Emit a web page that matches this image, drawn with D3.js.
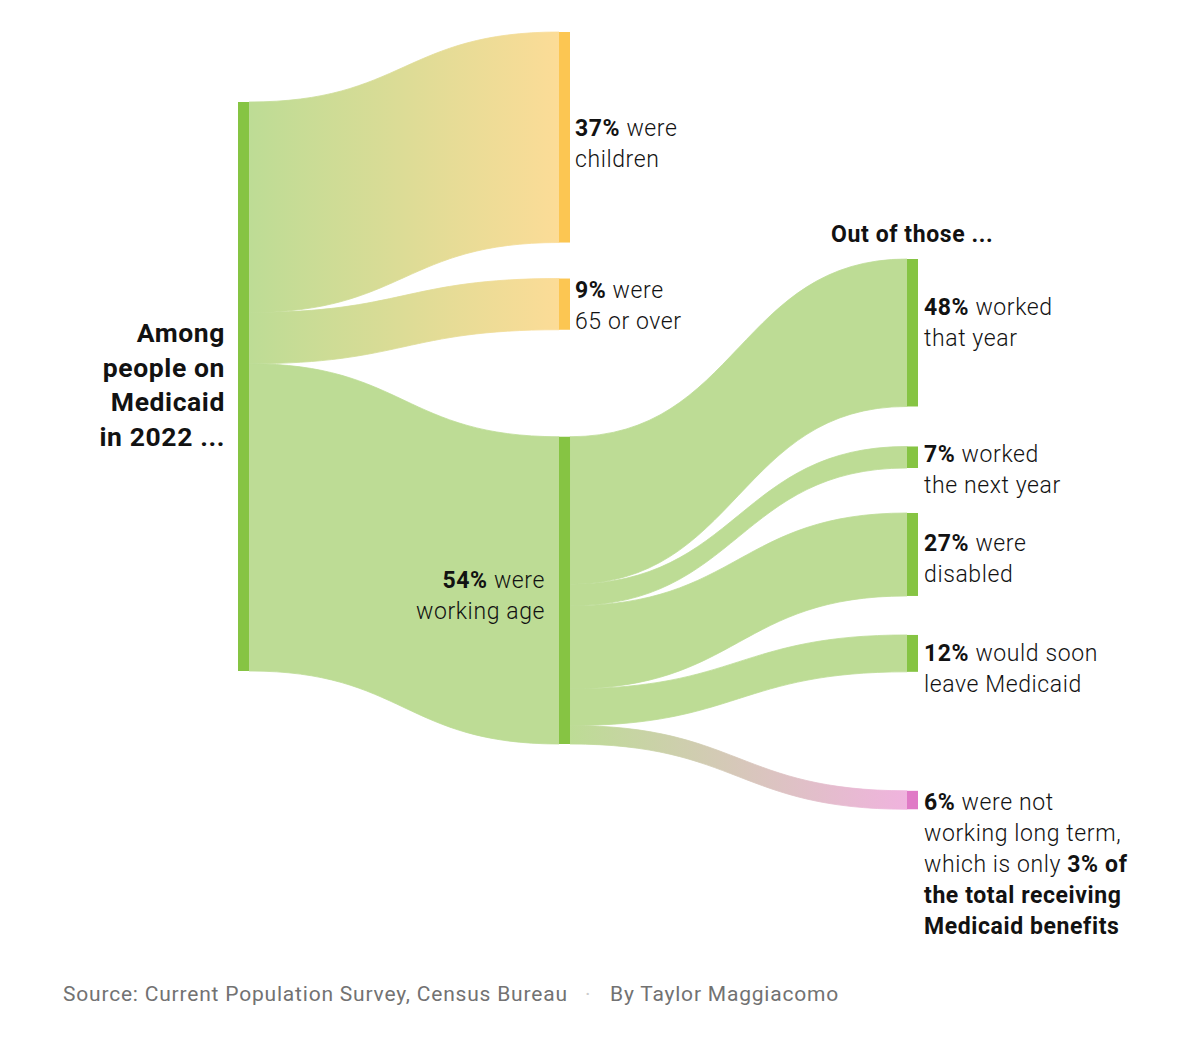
<!DOCTYPE html>
<html>
<head>
<meta charset="utf-8">
<script src="https://cdn.jsdelivr.net/npm/d3@7"></script>
<style>
  html, body { margin: 0; padding: 0; background: #fff; }
  svg { display: block; font-family: Roboto, "Noto Sans", sans-serif; }
</style>
</head>
<body>
<svg id="chart" width="1186" height="1046"></svg>
<script>
// ---------------- DATA ----------------
const rootLabel = ["Among", "people on", "Medicaid", "in 2022 ..."];
const groups = ["children", "65 or over", "working age"];
const groupValues = [37, 9, 54];            // % of everyone on Medicaid
const outcomes = ["worked that year", "worked the next year", "disabled", "would soon leave Medicaid", "not working long term"];
const outcomeValues = [48, 7, 27, 12, 6];   // % of working-age adults
const outcomesHeader = "Out of those ...";
const groupLabels = [
  [[{t: "37%", b: true}, {t: " were"}], [{t: "children"}]],
  [[{t: "9%", b: true}, {t: " were"}], [{t: "65 or over"}]],
  [[{t: "54%", b: true}, {t: " were"}], [{t: "working age"}]]
];
const outcomeLabels = [
  [[{t: "48%", b: true}, {t: " worked"}], [{t: "that year"}]],
  [[{t: "7%", b: true}, {t: " worked"}], [{t: "the next year"}]],
  [[{t: "27%", b: true}, {t: " were"}], [{t: "disabled"}]],
  [[{t: "12%", b: true}, {t: " would soon"}], [{t: "leave Medicaid"}]],
  [[{t: "6%", b: true}, {t: " were not"}], [{t: "working long term,"}],
   [{t: "which is only "}, {t: "3% of", b: true}], [{t: "the total receiving", b: true}], [{t: "Medicaid benefits", b: true}]]
];
const sourceNote = "Source: Current Population Survey, Census Bureau";
const byline = "By Taylor Maggiacomo";

// ---------------- LAYOUT / STYLE ----------------
const W = 1186, H = 1046;
const layout = {
  colX: [238, 559, 907],
  nodeW: 11,
  rootTop: 102,
  rootHeight: 569,
  groupTop: 32,
  groupGaps: [36, 107],
  outcomeTop: 259,
  outcomeGaps: [40, 45, 39, 119],
  groupLabelDy: [104, 19, 151],
  outcomeLabelDy: [56, 16, 38, 26, 19],
  lineH: 31,
  labelSize: 23,
  labelSpacing: 0.6
};
const colors = {
  node: "#86c443",
  link: "#bddc95",
  yellowNode: "#fcc652",
  yellowLink: "#fcdc97",
  pinkNode: "#e07ac6",
  pinkLink: "#f0b3de",
  text: "#121212",
  note: "#727272"
};

const svg = d3.select("#chart");
const defs = svg.append("defs");

// scale: percent of total -> pixels
const y = d3.scaleLinear().domain([0, 100]).range([0, layout.rootHeight]);

// nodes
const root = {x0: layout.colX[0], y0: layout.rootTop, y1: layout.rootTop + y(100), color: colors.node};
let cur = layout.groupTop;
const groupNodes = groups.map((g, i) => {
  if (i > 0) cur += layout.groupGaps[i - 1];
  const n = {name: g, x0: layout.colX[1], y0: cur, y1: cur + y(groupValues[i]),
             color: i < 2 ? colors.yellowNode : colors.node,
             linkEnd: i < 2 ? colors.yellowLink : colors.link};
  cur = n.y1;
  return n;
});
const working = groupNodes[2];
const workShare = groupValues[2];
cur = layout.outcomeTop;
const outcomeNodes = outcomes.map((o, i) => {
  if (i > 0) cur += layout.outcomeGaps[i - 1];
  const n = {name: o, x0: layout.colX[2], y0: cur, y1: cur + y(outcomeValues[i] * workShare / 100),
             color: i === 4 ? colors.pinkNode : colors.node,
             linkEnd: i === 4 ? colors.pinkLink : colors.link};
  cur = n.y1;
  return n;
});

// links
function buildLinks(src, targets) {
  let sy = src.y0;
  return targets.map(t => {
    const h = t.y1 - t.y0;
    const l = {sx: src.x0 + layout.nodeW, sy0: sy, sy1: sy + h, tx: t.x0, ty0: t.y0, ty1: t.y1, target: t};
    sy += h;
    return l;
  });
}
const links = buildLinks(root, groupNodes).concat(buildLinks(working, outcomeNodes));

function bandPath(l) {
  const xm = (l.sx + l.tx) / 2;
  const p = d3.path();
  p.moveTo(l.sx, l.sy0);
  p.bezierCurveTo(xm, l.sy0, xm, l.ty0, l.tx, l.ty0);
  p.lineTo(l.tx, l.ty1);
  p.bezierCurveTo(xm, l.ty1, xm, l.sy1, l.sx, l.sy1);
  p.closePath();
  return p.toString();
}

links.forEach((l, i) => {
  let fill = colors.link;
  if (l.target.linkEnd !== colors.link) {
    const id = "grad" + i;
    const g = defs.append("linearGradient").attr("id", id)
      .attr("gradientUnits", "userSpaceOnUse")
      .attr("x1", l.sx).attr("x2", l.tx).attr("y1", 0).attr("y2", 0);
    g.append("stop").attr("offset", "0%").attr("stop-color", colors.link);
    g.append("stop").attr("offset", "100%").attr("stop-color", l.target.linkEnd);
    fill = `url(#${id})`;
  }
  l.fill = fill;
});

svg.append("g").selectAll("path").data(links).join("path")
  .attr("d", bandPath).attr("fill", d => d.fill)
  .attr("stroke", d => d.fill).attr("stroke-width", 0.8);

const allNodes = [root].concat(groupNodes, outcomeNodes);
svg.append("g").selectAll("rect").data(allNodes).join("rect")
  .attr("x", d => d.x0).attr("y", d => d.y0)
  .attr("width", layout.nodeW).attr("height", d => d.y1 - d.y0)
  .attr("fill", d => d.color);

// rich labels
function richLabel(g, lines, x, y0, anchor, size) {
  const t = g.append("text").attr("x", x).attr("y", y0)
    .attr("text-anchor", anchor).attr("font-size", size).attr("fill", colors.text)
    .attr("letter-spacing", layout.labelSpacing);
  lines.forEach((line, li) => {
    line.forEach((seg, si) => {
      const ts = t.append("tspan").text(seg.t)
        .attr("font-weight", seg.b ? 700 : 300);
      if (si === 0) ts.attr("x", x).attr("dy", li === 0 ? 0 : layout.lineH);
    });
  });
}
const lg = svg.append("g");
groupNodes.forEach((n, i) => {
  if (i < 2) richLabel(lg, groupLabels[i], n.x0 + layout.nodeW + 5, n.y0 + layout.groupLabelDy[i], "start", layout.labelSize);
  else richLabel(lg, groupLabels[i], n.x0 - 14, n.y0 + layout.groupLabelDy[i], "end", layout.labelSize);
});
outcomeNodes.forEach((n, i) => {
  richLabel(lg, outcomeLabels[i], n.x0 + layout.nodeW + 6, n.y0 + layout.outcomeLabelDy[i], "start", layout.labelSize);
});

// header for outcomes
svg.append("text").attr("x", 831).attr("y", 242)
  .attr("font-size", 23).attr("font-weight", 700).attr("fill", colors.text)
  .attr("letter-spacing", 0.6)
  .text(outcomesHeader);

// root label
const rt = svg.append("text").attr("x", 225).attr("y", 342)
  .attr("text-anchor", "end").attr("font-size", 26.5).attr("font-weight", 700).attr("fill", colors.text)
  .attr("letter-spacing", 0.6);
rootLabel.forEach((s, i) => rt.append("tspan").attr("x", 225).attr("dy", i === 0 ? 0 : 34.7).text(s));

// footer
const ft = svg.append("text").attr("x", 63).attr("y", 1001).attr("font-size", 21).attr("fill", colors.note)
  .attr("letter-spacing", 0.8);
ft.append("tspan").text(sourceNote);
ft.append("tspan").attr("fill", "#cccccc").attr("x", 585).text("·");
ft.append("tspan").attr("x", 610).text(byline);
</script>
</body>
</html>
